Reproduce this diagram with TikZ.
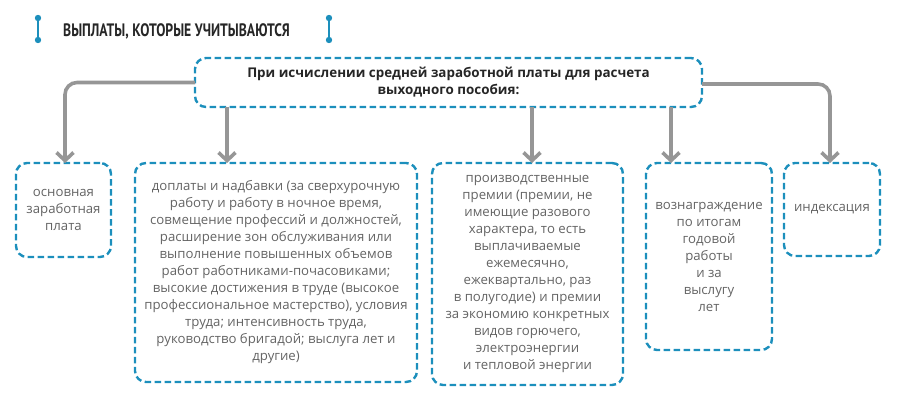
\documentclass[tikz,border=0pt]{standalone}
\usepackage{fontspec}
\setmainfont{Open Sans}
\newfontfamily\titlefont[FakeStretch=0.76]{PT Sans}
\usepackage{xcolor}
\usetikzlibrary{arrows.meta,positioning,calc}

\definecolor{dashblue}{RGB}{28,143,188}
\definecolor{arrgray}{RGB}{150,150,150}
\definecolor{txtgray}{RGB}{100,100,100}

\tikzset{
  dashbox/.style={draw=dashblue,line width=2.4pt,dash pattern=on 6.5pt off 3.5pt,rounded corners=11pt,
    inner sep=0pt,outer sep=0pt,align=center,text=txtgray,font=\fontsize{13.2}{17}\selectfont},
  arr/.style={draw=arrgray,line width=3.6pt,rounded corners=12pt,
    -{Straight Barb[length=8pt,width=17pt,line width=3.6pt]}}
}

\begin{document}
\begin{tikzpicture}[x=1pt,y=-1pt]
\useasboundingbox (0,0) rectangle (900,406);

% heading with the two blue bars
\foreach \xx in {38,329} {
  \draw[dashblue,line width=2.4pt] (\xx,18) -- (\xx,40);
  \fill[dashblue] (\xx,18) circle (3.2pt) (\xx,40) circle (3.2pt);
}
\node[anchor=west,inner sep=0pt,text=black!85,font=\titlefont\bfseries\fontsize{18}{20}\selectfont] (title) at (63,31) {ВЫПЛАТЫ, КОТОРЫЕ УЧИТЫВАЮТСЯ};

\node[dashbox,minimum width=507pt,minimum height=49pt,text=black!85,font=\fontsize{13.4}{17}\selectfont\bfseries] (calc) at (448.5,82.5)
  {При исчислении средней заработной платы для расчета\\ выходного пособия:};

\node[dashbox,minimum width=95pt,minimum height=94pt,anchor=north west] (base) at (16,163)
  {основная\\ заработная\\ плата};
\node[dashbox,minimum width=282pt,minimum height=219pt,right=24pt of base.north east,anchor=north west] (extra)
  {доплаты и надбавки (за сверхурочную\\ работу и работу в ночное время,\\ совмещение профессий и должностей,\\ расширение зон обслуживания или\\ выполнение повышенных объемов\\ работ работниками-почасовиками;\\ высокие достижения в труде (высокое\\ профессиональное мастерство), условия\\ труда; интенсивность труда,\\ руководство бригадой; выслуга лет и\\ другие)};
\node[dashbox,minimum width=191pt,minimum height=222pt,right=15pt of extra.north east,anchor=north west] (bonus)
  {производственные\\ премии (премии, не\\ имеющие разового\\ характера, то есть\\ выплачиваемые\\ ежемесячно,\\ ежеквартально, раз\\ в полугодие) и премии\\ за экономию конкретных\\ видов горючего,\\ электроэнергии\\ и тепловой энергии};
\node[dashbox,minimum width=126pt,minimum height=187pt,right=23pt of bonus.north east,anchor=north west] (award)
  {вознаграждение\\ по итогам\\ годовой\\ работы\\ и за\\ выслугу\\ лет};
\node[dashbox,minimum width=96pt,minimum height=93pt,right=12pt of award.north east,anchor=north west] (index)
  {индексация};

\draw[arr] (calc.west) -| ([xshift=1.5pt]base.north);
\draw[arr] ([xshift=-49pt]extra.north |- calc.south) -- ([xshift=-49pt]extra.north);
\draw[arr] ([xshift=4.5pt]bonus.north |- calc.south) -- ([xshift=4.5pt]bonus.north);
\draw[arr] ([xshift=-38pt]award.north |- calc.south) -- ([xshift=-38pt]award.north);
\draw[arr] ([yshift=-1.5pt]calc.east) -| ([xshift=-2pt]index.north);
\end{tikzpicture}
\end{document}
